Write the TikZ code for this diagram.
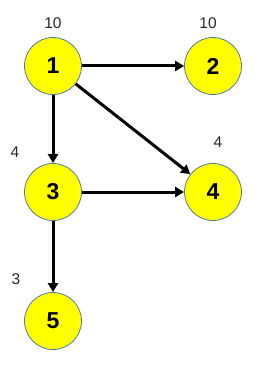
\documentclass[tikz,border=0pt]{standalone}
\usepackage{fontspec}
\setmainfont{Liberation Sans}
\newfontfamily\digitfont{Liberation Sans Bold}
\usetikzlibrary{arrows.meta}
\definecolor{nodeyellow}{RGB}{255,255,0}
\definecolor{rimblue}{RGB}{80,120,170}
\begin{document}
\begin{tikzpicture}[x=1pt,y=-1pt,
  vert/.style={circle,draw=rimblue,line width=0.8pt,fill=nodeyellow,minimum size=57pt,inner sep=0pt,font=\fontsize{23}{23}\selectfont\bfseries},
  wlabel/.style={inner sep=0pt,font=\fontsize{15.5}{16}\selectfont,text=black!85},
  edge/.style={line width=3pt,-{Triangle[length=9pt,width=10pt]}}]
\useasboundingbox (0,0) rectangle (268,366);
\node[vert] (n1) at (53,66) {1};
\node[vert] (n2) at (213,66) {2};
\node[vert] (n3) at (53,192) {3};
\node[vert] (n4) at (213,192) {4};
\node[vert] (n5) at (53,321) {5};
\node[wlabel] (l1) at (53,23) {10};
\node[wlabel] (l2) at (208,23) {10};
\node[wlabel] (l3) at (15,152) {4};
\node[wlabel] (l4) at (218,142) {4};
\node[wlabel] (l5) at (16,279) {3};
\draw[edge] (n1) -- (n2);
\draw[edge] (n1) -- (n3);
\draw[edge] (n1) -- (n4);
\draw[edge] (n3) -- (n4);
\draw[edge] (n3) -- (n5);
\end{tikzpicture}
\end{document}
